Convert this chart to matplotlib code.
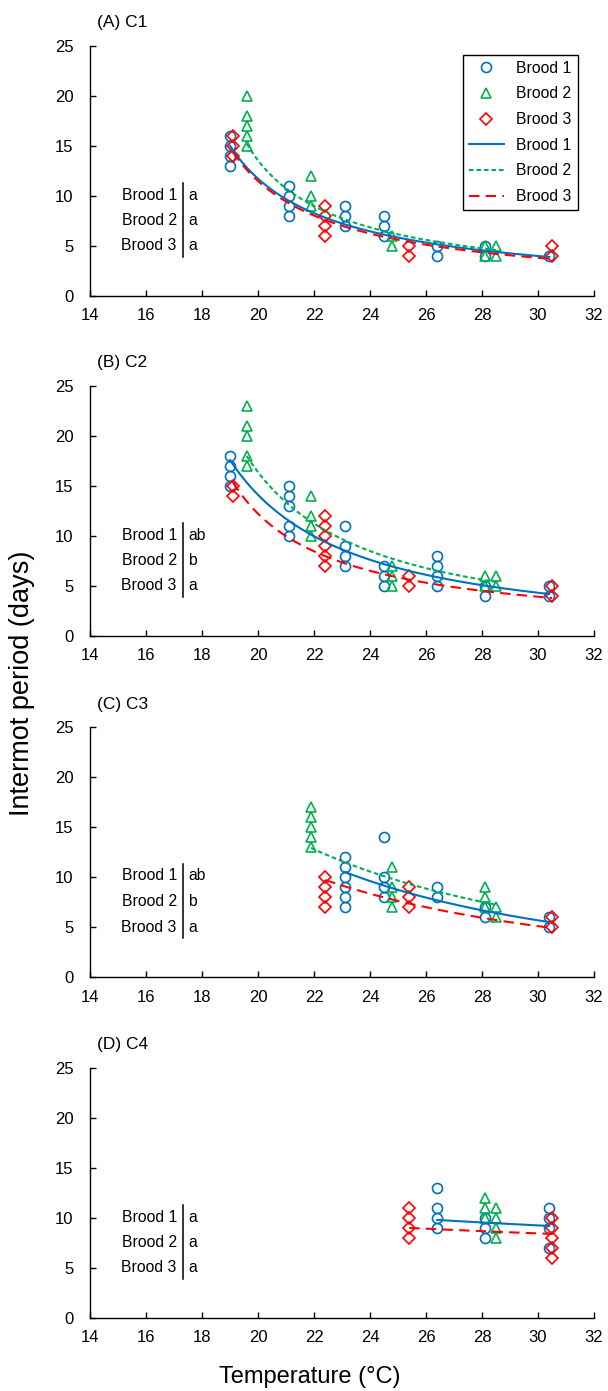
import matplotlib
matplotlib.use("Agg")
import matplotlib.pyplot as plt
import numpy as np
from matplotlib.lines import Line2D

plt.rcParams["font.family"] = ["Liberation Sans", "DejaVu Sans"]

# ---- data: intermolt period (days) per temperature, per instar and brood ----
c1_b1_temp = [19, 19, 19, 19, 21.1, 21.1, 21.1, 21.1, 23.1, 23.1, 23.1, 24.5, 24.5, 24.5,
              26.4, 26.4, 28.1, 28.1, 30.4]
c1_b1_days = [16, 15, 14, 13, 11, 10, 9, 8, 9, 8, 7, 8, 7, 6, 5, 4, 5, 4, 4]
c1_b2_temp = [19.6, 19.6, 19.6, 19.6, 19.6, 21.9, 21.9, 21.9, 24.8, 24.8, 28.1, 28.1, 28.5, 28.5]
c1_b2_days = [20, 18, 17, 16, 15, 12, 10, 9, 6, 5, 5, 4, 5, 4]
c1_b3_temp = [19.1, 19.1, 19.1, 22.4, 22.4, 22.4, 22.4, 25.4, 25.4, 30.5, 30.5]
c1_b3_days = [16, 15, 14, 9, 8, 7, 6, 5, 4, 5, 4]

c2_b1_temp = [19, 19, 19, 19, 21.1, 21.1, 21.1, 21.1, 21.1, 23.1, 23.1, 23.1, 23.1,
              24.5, 24.5, 24.5, 26.4, 26.4, 26.4, 26.4, 28.1, 28.1, 30.4, 30.4]
c2_b1_days = [18, 17, 16, 15, 15, 14, 13, 11, 10, 11, 9, 8, 7, 7, 6, 5, 8, 7, 6, 5, 5, 4, 5, 4]
c2_b2_temp = [19.6, 19.6, 19.6, 19.6, 19.6, 21.9, 21.9, 21.9, 21.9, 24.8, 24.8, 24.8,
              28.1, 28.1, 28.5, 28.5]
c2_b2_days = [23, 21, 20, 18, 17, 14, 12, 11, 10, 7, 6, 5, 6, 5, 6, 5]
c2_b3_temp = [19.1, 19.1, 22.4, 22.4, 22.4, 22.4, 22.4, 22.4, 25.4, 25.4, 30.5, 30.5]
c2_b3_days = [15, 14, 12, 11, 10, 9, 8, 7, 6, 5, 5, 4]

c3_b1_temp = [23.1, 23.1, 23.1, 23.1, 23.1, 23.1, 24.5, 24.5, 24.5, 24.5, 26.4, 26.4,
              28.1, 28.1, 30.4, 30.4]
c3_b1_days = [12, 11, 10, 9, 8, 7, 14, 10, 9, 8, 9, 8, 7, 6, 6, 5]
c3_b2_temp = [21.9, 21.9, 21.9, 21.9, 21.9, 24.8, 24.8, 24.8, 24.8, 28.1, 28.1, 28.1, 28.5, 28.5]
c3_b2_days = [17, 16, 15, 14, 13, 11, 9, 8, 7, 9, 8, 7, 7, 6]
c3_b3_temp = [22.4, 22.4, 22.4, 22.4, 25.4, 25.4, 25.4, 30.5, 30.5]
c3_b3_days = [10, 9, 8, 7, 9, 8, 7, 6, 5]

c4_b1_temp = [26.4, 26.4, 26.4, 26.4, 28.1, 28.1, 28.1, 30.4, 30.4, 30.4, 30.4]
c4_b1_days = [13, 11, 10, 9, 10, 9, 8, 11, 10, 9, 7]
c4_b2_temp = [28.1, 28.1, 28.1, 28.5, 28.5, 28.5, 28.5]
c4_b2_days = [12, 11, 10, 11, 10, 9, 8]
c4_b3_temp = [25.4, 25.4, 25.4, 25.4, 30.5, 30.5, 30.5, 30.5, 30.5]
c4_b3_days = [11, 10, 9, 8, 10, 9, 8, 7, 6]

# fitted curves D = a * (T - alpha) ** b  (a, alpha, b), None = no curve shown
c1_fits = [(38.6, 16, -0.859), (32.8, 17, -0.804), (39.0, 16, -0.881)]
c2_fits = [(122.5, 14, -1.206), (99.1, 15, -1.118), (43.0, 16, -0.907)]
c3_fits = [(17350, 0, -2.36), (11470, 0, -2.20), (9350, 0, -2.21)]
c4_fits = [(42.5, 0, -0.448), None, (30.5, 0, -0.377)]

panel_titles = ["(A) C1", "(B) C2", "(C) C3", "(D) C4"]
brood_names = ["Brood 1", "Brood 2", "Brood 3"]
c1_letters = ["a", "a", "a"]
c2_letters = ["ab", "b", "a"]
c3_letters = ["ab", "b", "a"]
c4_letters = ["a", "a", "a"]

panels = [
    ([(c1_b1_temp, c1_b1_days), (c1_b2_temp, c1_b2_days), (c1_b3_temp, c1_b3_days)], c1_fits, c1_letters),
    ([(c2_b1_temp, c2_b1_days), (c2_b2_temp, c2_b2_days), (c2_b3_temp, c2_b3_days)], c2_fits, c2_letters),
    ([(c3_b1_temp, c3_b1_days), (c3_b2_temp, c3_b2_days), (c3_b3_temp, c3_b3_days)], c3_fits, c3_letters),
    ([(c4_b1_temp, c4_b1_days), (c4_b2_temp, c4_b2_days), (c4_b3_temp, c4_b3_days)], c4_fits, c4_letters),
]

COLORS = ["#0070C0", "#00B050", "#FF0000"]
MARKERS = [("o", 7.2), ("^", 7.6), ("D", 5.8)]
LINESTYLES = ["-", (0, (2.2, 1.4)), (0, (5, 3))]

W, H = 608, 1391
fig = plt.figure(figsize=(W / 100, H / 100), dpi=100)
ax_bottoms = [296, 636, 977, 1318]   # pixel row of y=0 per panel

for k, (series, fits, letters) in enumerate(panels):
    ax = fig.add_axes([90 / W, 1 - ax_bottoms[k] / H, 504 / W, 250 / H])
    for i, (t, d) in enumerate(series):
        m, ms = MARKERS[i]
        ax.plot(t, d, ls="none", marker=m, ms=ms, mfc="none", mec=COLORS[i], mew=1.2,
                clip_on=False, zorder=3)
    for i, (t, d) in enumerate(series):
        if fits[i] is None:
            continue
        a, alpha, b = fits[i]
        tt = np.linspace(min(t), max(t), 200)
        ax.plot(tt, a * (tt - alpha) ** b, color=COLORS[i], ls=LINESTYLES[i], lw=1.5, zorder=4)

    # significance annotation
    for j, (name, let) in enumerate(zip(brood_names, letters)):
        yy = [10.1, 7.55, 5.0][j]
        ax.text(17.1, yy, name, ha="right", va="center", fontsize=11.3)
        ax.text(17.5, yy, let, ha="left", va="center", fontsize=11.3)
    ax.plot([17.33, 17.33], [3.9, 11.3], color="black", lw=1.1)

    ax.set_xlim(14, 32)
    ax.set_ylim(0, 25)
    ax.set_xticks(np.arange(14, 33, 2))
    ax.set_yticks(np.arange(0, 26, 5))
    for s in ["top", "right"]:
        ax.spines[s].set_visible(False)
    for s in ["left", "bottom"]:
        ax.spines[s].set_linewidth(1.0)
    ax.tick_params(direction="in", length=4, width=1, labelsize=12)
    ax.tick_params(axis="y", pad=12)
    ax.tick_params(axis="x", pad=9)
    ax.text(0.014, 1.092, panel_titles[k], transform=ax.transAxes, ha="left", va="center",
            fontsize=12.5)

    if k == 0:
        handles = [Line2D([], [], ls="none", marker=MARKERS[i][0], ms=MARKERS[i][1], mfc="none",
                          mec=COLORS[i], mew=1.2) for i in range(3)]
        handles += [Line2D([], [], color=COLORS[i], ls=LINESTYLES[i], lw=1.5) for i in range(3)]
        leg = ax.legend(handles, brood_names * 2, loc="upper right", bbox_to_anchor=(0.968, 0.966),
                        borderaxespad=0, fontsize=11.3, handlelength=2.2, labelspacing=0.68,
                        fancybox=False, edgecolor="black", framealpha=1)
        leg.get_frame().set_linewidth(1.0)

fig.text(0.036, 1 - 683 / H, "Intermot period (days)", rotation=90, ha="center", va="center",
         fontsize=19.5)
fig.text(0.51, 1 - 1377 / H, "Temperature (\u00b0C)", ha="center", va="center", fontsize=17)

fig.savefig("out.png", dpi=100)
